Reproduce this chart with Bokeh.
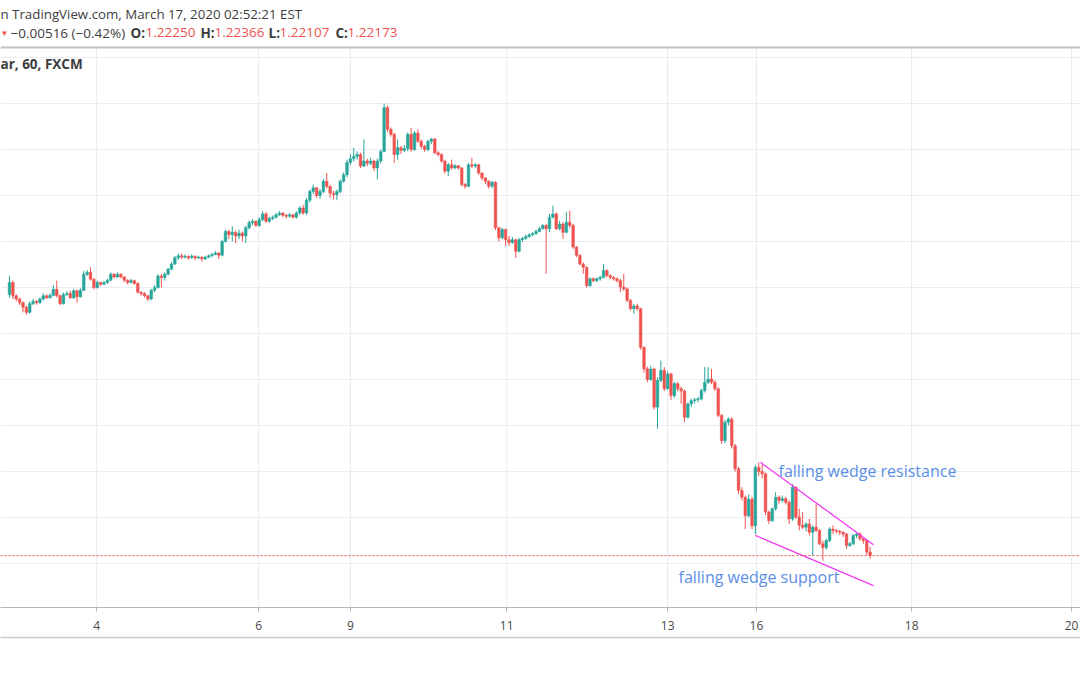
from bokeh.plotting import figure
from bokeh.models import ColumnDataSource, FixedTicker, Range1d, Span, Label, LinearAxis
from bokeh.embed import file_html
from bokeh.resources import INLINE

# ---------------- data (GBP/USD, 60 min, FXCM, March 2020) ----------------
first_open = 1.2785
close = [
    1.2811, 1.2782, 1.2775, 1.2767, 1.2757, 1.2746, 1.2765, 1.2770, 1.2767, 1.2775,
    1.2782, 1.2778, 1.2783, 1.2796, 1.2782, 1.2765, 1.2785, 1.2787, 1.2778, 1.2793,
    1.2780, 1.2794, 1.2829, 1.2833, 1.2818, 1.2800, 1.2811, 1.2807, 1.2811, 1.2816,
    1.2829, 1.2823, 1.2829, 1.2823, 1.2816, 1.2811, 1.2815, 1.2809, 1.2790, 1.2787,
    1.2782, 1.2775, 1.2794, 1.2800, 1.2825, 1.2822, 1.2829, 1.2840, 1.2851, 1.2865,
    1.2869, 1.2866, 1.2868, 1.2865, 1.2868, 1.2864, 1.2866, 1.2862, 1.2866, 1.2869,
    1.2872, 1.2875, 1.2870, 1.2900, 1.2922, 1.2915, 1.2920, 1.2912, 1.2918, 1.2912,
    1.2930, 1.2941, 1.2944, 1.2935, 1.2948, 1.2960, 1.2944, 1.2950, 1.2953, 1.2958,
    1.2962, 1.2957, 1.2955, 1.2958, 1.2953, 1.2962, 1.2973, 1.2962, 1.2990, 1.3009,
    1.3017, 1.3000, 1.3009, 1.3031, 1.3020, 1.3005, 1.3002, 1.3009, 1.3031, 1.3045,
    1.3072, 1.3080, 1.3085, 1.3089, 1.3064, 1.3075, 1.3070, 1.3075, 1.3060, 1.3075,
    1.3096, 1.3191, 1.3144, 1.3133, 1.3089, 1.3104, 1.3098, 1.3102, 1.3133, 1.3100,
    1.3136, 1.3118, 1.3107, 1.3100, 1.3118, 1.3123, 1.3093, 1.3089, 1.3075, 1.3053,
    1.3067, 1.3060, 1.3065, 1.3060, 1.3024, 1.3020, 1.3067, 1.3064, 1.3067, 1.3049,
    1.3038, 1.3031, 1.3020, 1.3029, 1.2930, 1.2908, 1.2926, 1.2904, 1.2898, 1.2904,
    1.2879, 1.2904, 1.2907, 1.2911, 1.2915, 1.2917, 1.2922, 1.2928, 1.2935, 1.2928,
    1.2953, 1.2960, 1.2928, 1.2938, 1.2920, 1.2942, 1.2935, 1.2888, 1.2870, 1.2851,
    1.2844, 1.2804, 1.2819, 1.2815, 1.2819, 1.2822, 1.2837, 1.2826, 1.2822, 1.2819,
    1.2815, 1.2801, 1.2797, 1.2772, 1.2754, 1.2760, 1.2754, 1.2670, 1.2623, 1.2600,
    1.2623, 1.2540, 1.2598, 1.2620, 1.2580, 1.2612, 1.2565, 1.2591, 1.2580, 1.2575,
    1.2518, 1.2547, 1.2554, 1.2556, 1.2558, 1.2576, 1.2594, 1.2601, 1.2594, 1.2580,
    1.2522, 1.2467, 1.2507, 1.2514, 1.2456, 1.2406, 1.2359, 1.2344, 1.2304, 1.2340,
    1.2282, 1.2409, 1.2400, 1.2395, 1.2312, 1.2293, 1.2319, 1.2344, 1.2337, 1.2341,
    1.2333, 1.2297, 1.2366, 1.2301, 1.2283, 1.2279, 1.2286, 1.2268, 1.2279, 1.2272,
    1.2243, 1.2235, 1.2250, 1.2275, 1.2272, 1.2270, 1.2268, 1.2264, 1.2239, 1.2243,
    1.2261, 1.2264, 1.2254, 1.2250, 1.2225, 1.22173,
]
high = [
    1.2825, 1.2815, 1.2785, 1.2778, 1.2770, 1.2760, 1.2770, 1.2775, 1.2773, 1.2779,
    1.2788, 1.2785, 1.2787, 1.2805, 1.2815, 1.2785, 1.2789, 1.2792, 1.2793, 1.2797,
    1.2795, 1.2798, 1.2836, 1.2838, 1.2844, 1.2820, 1.2815, 1.2813, 1.2814, 1.2819,
    1.2833, 1.2831, 1.2833, 1.2831, 1.2825, 1.2818, 1.2819, 1.2817, 1.2811, 1.2792,
    1.2790, 1.2784, 1.2797, 1.2805, 1.2829, 1.2830, 1.2833, 1.2843, 1.2855, 1.2869,
    1.2874, 1.2874, 1.2872, 1.2870, 1.2872, 1.2870, 1.2869, 1.2868, 1.2869, 1.2872,
    1.2875, 1.2879, 1.2877, 1.2904, 1.2926, 1.2925, 1.2933, 1.2924, 1.2926, 1.2922,
    1.2934, 1.2946, 1.2948, 1.2946, 1.2953, 1.2966, 1.2964, 1.2954, 1.2957, 1.2962,
    1.2966, 1.2964, 1.2960, 1.2962, 1.2960, 1.2966, 1.2977, 1.2980, 1.2995, 1.3013,
    1.3024, 1.3018, 1.3014, 1.3036, 1.3049, 1.3022, 1.3010, 1.3013, 1.3035, 1.3050,
    1.3078, 1.3090, 1.3104, 1.3096, 1.3093, 1.3122, 1.3080, 1.3082, 1.3078, 1.3080,
    1.3100, 1.3200, 1.3195, 1.3148, 1.3136, 1.3122, 1.3108, 1.3110, 1.3137, 1.3147,
    1.3140, 1.3144, 1.3122, 1.3110, 1.3121, 1.3125, 1.3125, 1.3097, 1.3092, 1.3078,
    1.3071, 1.3078, 1.3068, 1.3066, 1.3062, 1.3027, 1.3071, 1.3082, 1.3071, 1.3069,
    1.3050, 1.3040, 1.3033, 1.3032, 1.3031, 1.2932, 1.2930, 1.2928, 1.2912, 1.2910,
    1.2906, 1.2908, 1.2910, 1.2915, 1.2918, 1.2921, 1.2926, 1.2932, 1.2938, 1.2938,
    1.2960, 1.2978, 1.2964, 1.2945, 1.2942, 1.2964, 1.2967, 1.2938, 1.2890, 1.2872,
    1.2855, 1.2846, 1.2822, 1.2822, 1.2822, 1.2826, 1.2851, 1.2840, 1.2829, 1.2825,
    1.2822, 1.2819, 1.2830, 1.2800, 1.2775, 1.2764, 1.2765, 1.2756, 1.2672, 1.2628,
    1.2630, 1.2625, 1.2605, 1.2641, 1.2627, 1.2618, 1.2615, 1.2595, 1.2594, 1.2585,
    1.2578, 1.2550, 1.2558, 1.2560, 1.2562, 1.2580, 1.2627, 1.2627, 1.2623, 1.2598,
    1.2583, 1.2525, 1.2512, 1.2518, 1.2518, 1.2460, 1.2410, 1.2366, 1.2348, 1.2350,
    1.2345, 1.2414, 1.2420, 1.2418, 1.2398, 1.2315, 1.2322, 1.2355, 1.2348, 1.2348,
    1.2344, 1.2337, 1.2373, 1.2368, 1.2319, 1.2312, 1.2290, 1.2297, 1.2283, 1.2330,
    1.2275, 1.2250, 1.2254, 1.2279, 1.2283, 1.2275, 1.2273, 1.2270, 1.2266, 1.2247,
    1.2264, 1.2268, 1.2268, 1.2257, 1.2252, 1.22366,
]
low = [
    1.2778, 1.2775, 1.2770, 1.2762, 1.2746, 1.2741, 1.2743, 1.2762, 1.2763, 1.2765,
    1.2772, 1.2775, 1.2776, 1.2781, 1.2778, 1.2762, 1.2763, 1.2782, 1.2775, 1.2775,
    1.2767, 1.2778, 1.2792, 1.2825, 1.2815, 1.2796, 1.2798, 1.2803, 1.2805, 1.2808,
    1.2814, 1.2820, 1.2821, 1.2820, 1.2812, 1.2807, 1.2809, 1.2806, 1.2787, 1.2782,
    1.2778, 1.2770, 1.2772, 1.2790, 1.2798, 1.2800, 1.2815, 1.2826, 1.2838, 1.2849,
    1.2860, 1.2862, 1.2863, 1.2860, 1.2862, 1.2860, 1.2862, 1.2856, 1.2860, 1.2864,
    1.2866, 1.2870, 1.2862, 1.2868, 1.2898, 1.2905, 1.2900, 1.2897, 1.2905, 1.2900,
    1.2897, 1.2926, 1.2936, 1.2932, 1.2932, 1.2944, 1.2940, 1.2941, 1.2947, 1.2950,
    1.2956, 1.2953, 1.2950, 1.2952, 1.2950, 1.2950, 1.2958, 1.2958, 1.2958, 1.2985,
    1.3003, 1.2995, 1.2993, 1.3005, 1.3015, 1.2995, 1.2991, 1.2990, 1.3005, 1.3028,
    1.3040, 1.3066, 1.3074, 1.3078, 1.3060, 1.3062, 1.3064, 1.3066, 1.3053, 1.3035,
    1.3070, 1.3094, 1.3138, 1.3128, 1.3071, 1.3078, 1.3090, 1.3094, 1.3096, 1.3095,
    1.3097, 1.3114, 1.3102, 1.3095, 1.3096, 1.3112, 1.3090, 1.3085, 1.3071, 1.3048,
    1.3042, 1.3056, 1.3057, 1.3056, 1.3020, 1.3015, 1.3018, 1.3060, 1.3060, 1.3045,
    1.3033, 1.3025, 1.3015, 1.3016, 1.2925, 1.2900, 1.2905, 1.2890, 1.2890, 1.2895,
    1.2864, 1.2876, 1.2899, 1.2904, 1.2908, 1.2911, 1.2915, 1.2920, 1.2926, 1.2830,
    1.2920, 1.2950, 1.2925, 1.2924, 1.2906, 1.2918, 1.2930, 1.2884, 1.2866, 1.2848,
    1.2830, 1.2800, 1.2801, 1.2812, 1.2812, 1.2815, 1.2820, 1.2822, 1.2818, 1.2815,
    1.2811, 1.2790, 1.2793, 1.2768, 1.2750, 1.2743, 1.2750, 1.2665, 1.2615, 1.2594,
    1.2597, 1.2535, 1.2493, 1.2594, 1.2575, 1.2578, 1.2555, 1.2560, 1.2575, 1.2547,
    1.2507, 1.2515, 1.2540, 1.2548, 1.2550, 1.2555, 1.2572, 1.2590, 1.2590, 1.2575,
    1.2518, 1.2460, 1.2462, 1.2500, 1.2450, 1.2400, 1.2351, 1.2337, 1.2275, 1.2300,
    1.2275, 1.2264, 1.2390, 1.2385, 1.2305, 1.2286, 1.2290, 1.2315, 1.2330, 1.2333,
    1.2328, 1.2286, 1.2293, 1.2297, 1.2272, 1.2275, 1.2270, 1.2261, 1.2217, 1.2268,
    1.2240, 1.2206, 1.2230, 1.2246, 1.2264, 1.2265, 1.2262, 1.2258, 1.2232, 1.2236,
    1.2240, 1.2255, 1.2250, 1.2243, 1.2218, 1.22107,
]

day_ticks = [25.8, 73.8, 101.0, 147.3, 195.0, 221.3, 267.3, 314.7]
day_labels = ["4", "6", "9", "11", "13", "16", "18", "20"]
price_levels = [1.22, 1.23, 1.24, 1.25, 1.26, 1.27, 1.28, 1.29, 1.30, 1.31, 1.32, 1.33]

last_price = 1.22173
header_time = "n TradingView.com, March 17, 2020 02:52:21 EST"
change_text = "\u22120.00516 (\u22120.42%)"
ohlc_keys = ["O:", "H:", "L:", "C:"]
ohlc_vals = ["1.22250", "1.22366", "1.22107", "1.22173"]
symbol_text = "ar, 60, FXCM"

res_x = [222.5, 256.0]
res_y = [1.2420, 1.2241]
sup_x = [221.0, 256.0]
sup_y = [1.2261, 1.2152]
res_text = "falling wedge resistance"
sup_text = "falling wedge support"

# ---------------- styling ----------------
UP = "#26a69a"
DOWN = "#ef5350"
GRID = "#e8edf4"
FONT = "Open Sans"
W, H = 1080, 675
FRAME_BOTTOM = 607
X_LO, X_HI = -2.667, 317.33
Y_LO, Y_PANE_TOP, Y_HI = 1.21044, 1.33218, 1.3424   # price at pane bottom, pane top, header top
PX = (Y_HI - Y_LO) / FRAME_BOTTOM                     # price per pixel

n = len(close)
xs = list(range(n))
opens = [first_open] + close[:-1]
colors = [UP if c >= o else DOWN for o, c in zip(opens, close)]
src = ColumnDataSource(dict(
    x=xs,
    top=[max(o, c) for o, c in zip(opens, close)],
    bottom=[min(o, c) for o, c in zip(opens, close)],
    h=[max(h, o, c) for h, o, c in zip(high, opens, close)],
    l=[min(l, o, c) for l, o, c in zip(low, opens, close)],
    color=colors,
))

p = figure(width=W, height=H,
           x_range=Range1d(X_LO, X_HI), y_range=Range1d(Y_LO, Y_HI),
           output_backend="svg", toolbar_location=None,
           min_border_left=0, min_border_right=0,
           min_border_top=0, min_border_bottom=H - FRAME_BOTTOM,
           background_fill_color="white", border_fill_color="white")
p.outline_line_color = None

# grids: horizontal by Bokeh grid, vertical drawn only inside the price pane
p.xgrid.visible = False
p.ygrid.ticker = FixedTicker(ticks=price_levels)
p.ygrid.grid_line_color = GRID
p.ygrid.grid_line_width = 1.2
p.yaxis.visible = False
p.segment(x0=day_ticks, y0=[Y_LO] * len(day_ticks), x1=day_ticks, y1=[Y_PANE_TOP] * len(day_ticks),
          line_color=GRID, line_width=1.2)

# header separator band (about 2 px high)
p.quad(left=[X_LO], right=[X_HI], bottom=[Y_PANE_TOP - PX], top=[Y_PANE_TOP + PX],
       fill_color="#bcc0c7", line_color=None)

# x axis
xa = p.xaxis[0]
xa.ticker = FixedTicker(ticks=day_ticks)
xa.major_label_overrides = {t: l for t, l in zip(day_ticks, day_labels)}
xa.axis_line_color = "#b2b5be"
xa.major_tick_line_color = "#b2b5be"
xa.major_tick_in = 0
xa.major_tick_out = 4
xa.minor_tick_line_color = None
xa.major_label_standoff = 9
xa.major_label_text_font = FONT
xa.major_label_text_font_size = "12px"
xa.major_label_text_color = "#4a4a4a"
xa.axis_label = " "
xa.axis_label_text_font_size = "2px"
xa.axis_label_standoff = 0

# lower border line of the time scale
ax2 = LinearAxis(ticker=FixedTicker(ticks=[]), axis_line_color="#c8cad0", axis_line_width=1.5,
                 major_tick_line_color=None, minor_tick_line_color=None,
                 major_label_text_font_size="0px")
p.add_layout(ax2, "below")

# candles
p.segment(x0="x", y0="h", x1="x", y1="l", line_color="color", line_width=1, source=src)
p.vbar(x="x", width=0.78, top="top", bottom="bottom", fill_color="color",
       line_color="color", line_width=0.5, source=src)

# current price line
p.add_layout(Span(location=last_price, dimension="width", line_color=DOWN,
                  line_dash="2 2", line_width=1))

# wedge lines
p.line(res_x, res_y, line_color="#f03cf0", line_width=1.3)
p.line(sup_x, sup_y, line_color="#f03cf0", line_width=1.3)

def lab(x, y, text, color="#3d3d3d", size="13.5px", style="normal"):
    # x, y: picture pixels from the top-left corner
    p.add_layout(Label(x=x, y=FRAME_BOTTOM - y, x_units="screen", y_units="screen", text=text,
                       text_color=color, text_font=FONT, text_font_size=size,
                       text_font_style=style, text_baseline="middle", text_align="left"))

# header
lab(0, 13, header_time, size="13.3px")
lab(0, 32, "\u25bc", color=DOWN, size="8px")
lab(10, 32, change_text)
ok_x = [130, 200, 268, 335]
ov_x = [145, 214, 279, 347]
for k, v, kx, vx in zip(ohlc_keys, ohlc_vals, ok_x, ov_x):
    lab(kx, 32, k, style="bold")
    lab(vx, 32, v, color=DOWN)
lab(0, 63, symbol_text, style="bold")

# annotations
lab(778, 470, res_text, color="#5a8ee6", size="16px")
lab(678, 576, sup_text, color="#5a8ee6", size="16px")

open("out.html", "w").write(file_html(p, INLINE))
